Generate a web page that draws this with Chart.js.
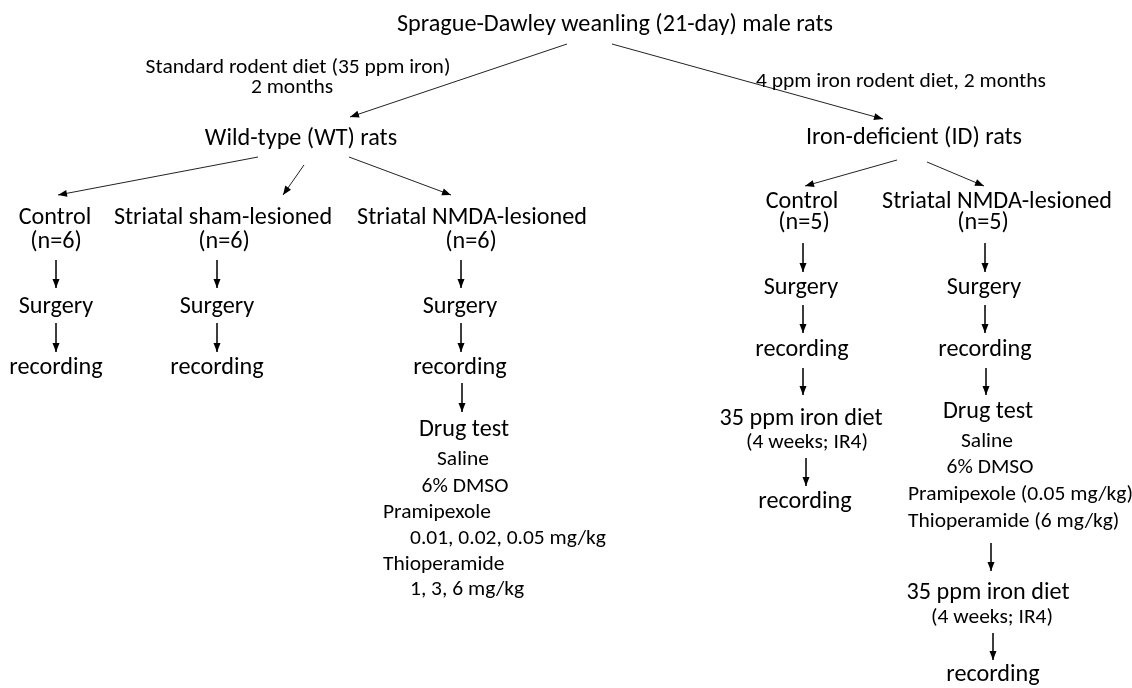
<!DOCTYPE html>
<html>
<head>
<meta charset="utf-8">
<script src="https://cdn.jsdelivr.net/npm/chart.js@4.4.0/dist/chart.umd.min.js"></script>
<style>
  html, body { margin: 0; background: #fff; }
  #wrap { width: 1132px; height: 688px; }
</style>
</head>
<body>
<div id="wrap"><canvas id="flow"></canvas></div>
<script>
// Flow diagram values (x right, y down, in px of the original)

// Main steps (large text, centred)
const nodeText = [
  'Sprague-Dawley weanling (21-day) male rats',
  'Wild-type (WT) rats', 'Iron-deficient (ID) rats',
  'Control', '(n=6)', 'Striatal sham-lesioned', '(n=6)', 'Striatal NMDA-lesioned', '(n=6)',
  'Surgery', 'Surgery', 'Surgery',
  'recording', 'recording', 'recording',
  'Drug test',
  'Control', '(n=5)', 'Striatal NMDA-lesioned', '(n=5)',
  'Surgery', 'Surgery', 'recording', 'recording',
  '35 ppm iron diet', 'recording', 'Drug test', '35 ppm iron diet', 'recording',
];
const nodeX = [
  615,
  301, 914,
  55, 56, 223, 224, 472, 471,
  56, 217, 460,
  56, 217, 460,
  464,
  802, 804, 997, 983,
  801, 984, 802, 985,
  801, 805, 988, 988, 993,
];
const nodeY = [
  25,
  139, 138,
  218, 242, 218, 242, 218, 242,
  307, 307, 307,
  368, 368, 368,
  430,
  202, 223, 202, 223,
  288, 288, 350, 350,
  419, 502, 412, 593, 675,
];

// Notes (smaller text, centred)
const noteText = [
  'Standard rodent diet (35 ppm iron)', '2 months', '4 ppm iron rodent diet, 2 months',
  'Saline', '6% DMSO', '(4 weeks; IR4)',
  'Saline', '6% DMSO', '(4 weeks; IR4)',
];
const noteX = [298, 292, 901, 463, 465, 807, 987, 990, 992];
const noteY = [68, 88, 82, 460, 487, 443, 442, 468, 618];

// Drug and dose lines (smaller text, left aligned)
const doseText = [
  'Pramipexole', '0.01, 0.02, 0.05 mg/kg', 'Thioperamide', '1, 3, 6 mg/kg',
  'Pramipexole (0.05 mg/kg)', 'Thioperamide (6 mg/kg)',
];
const doseX = [383, 410, 383, 410, 908, 908];
const doseY = [513, 539, 565, 590, 495, 522];

// Arrows: [x from, y from, x to, y to]
const arrows = [
  [567, 44, 350, 117], [612, 44, 883, 119],
  [258, 157, 58, 195], [304, 165, 283, 195], [349, 157, 451, 195],
  [897, 160, 805, 186], [927, 162, 984, 186],
  [56, 260, 56, 288], [56, 323, 56, 352],
  [217, 260, 217, 288], [217, 323, 217, 352],
  [461, 260, 461, 288], [461, 323, 461, 352], [462, 383, 462, 412],
  [803, 243, 803, 272], [803, 305, 803, 333], [803, 368, 803, 395], [806, 458, 806, 486],
  [985, 243, 985, 272], [985, 305, 985, 333], [986, 368, 986, 395],
  [991, 543, 991, 571], [993, 633, 993, 660],
];

const FONT = 'Carlito, Lato, "Liberation Sans", sans-serif';
const INK = '#000';
const LINE = '#222';

const toPoints = (xs, ys) => xs.map((x, i) => ({ x, y: ys[i] }));

const arrowSets = arrows.map(a => ({
  kind: 'arrow',
  type: 'line',
  data: [{ x: a[0], y: a[1] }, { x: a[2], y: a[3] }],
  borderColor: LINE,
  borderWidth: 1,
  pointRadius: 0,
  tension: 0,
}));

const textSets = [
  { kind: 'text', texts: nodeText, size: 24, align: 'center', data: toPoints(nodeX, nodeY), pointRadius: 0 },
  { kind: 'text', texts: noteText, size: 21.33, align: 'center', data: toPoints(noteX, noteY), pointRadius: 0 },
  { kind: 'text', texts: doseText, size: 21.33, align: 'left', data: toPoints(doseX, doseY), pointRadius: 0 },
];

// arrowheads and labels, placed through the chart scales
const flowPlugin = {
  id: 'flow',
  afterDatasetsDraw(chart) {
    const { ctx, scales: { x, y } } = chart;

    // squeeze the fallback font to the width of the original title
    ctx.save();
    ctx.font = `24px ${FONT}`;
    const squeeze = 436 / ctx.measureText(nodeText[0]).width;
    ctx.restore();

    chart.data.datasets.forEach(ds => {
      if (ds.kind === 'arrow') {
        const [p, q] = ds.data;
        const x1 = x.getPixelForValue(p.x), y1 = y.getPixelForValue(p.y);
        const x2 = x.getPixelForValue(q.x), y2 = y.getPixelForValue(q.y);
        const a = Math.atan2(y2 - y1, x2 - x1);
        const len = 9, half = 3.5;
        const bx = x2 - len * Math.cos(a), by = y2 - len * Math.sin(a);
        ctx.save();
        ctx.fillStyle = INK;
        ctx.beginPath();
        ctx.moveTo(x2, y2);
        ctx.lineTo(bx - half * Math.sin(a), by + half * Math.cos(a));
        ctx.lineTo(bx + half * Math.sin(a), by - half * Math.cos(a));
        ctx.closePath();
        ctx.fill();
        ctx.restore();
      } else if (ds.kind === 'text') {
        ctx.save();
        ctx.fillStyle = INK;
        ctx.font = `${ds.size}px ${FONT}`;
        ctx.textAlign = ds.align;
        ctx.textBaseline = 'middle';
        ds.data.forEach((pt, i) => {
          ctx.save();
          ctx.translate(x.getPixelForValue(pt.x), y.getPixelForValue(pt.y));
          ctx.scale(squeeze, 1);
          ctx.fillText(ds.texts[i], 0, 0);
          ctx.restore();
        });
        ctx.restore();
      }
    });
  },
};

new Chart(document.getElementById('flow'), {
  type: 'scatter',
  data: { datasets: [...arrowSets, ...textSets] },
  options: {
    responsive: true,
    maintainAspectRatio: false,
    animation: false,
    events: [],
    layout: { padding: 0 },
    scales: {
      x: { type: 'linear', min: 0, max: 1132, display: false },
      y: { type: 'linear', min: 0, max: 688, reverse: true, display: false },
    },
    plugins: {
      legend: { display: false },
      tooltip: { enabled: false },
    },
  },
  plugins: [flowPlugin],
});
</script>
</body>
</html>
